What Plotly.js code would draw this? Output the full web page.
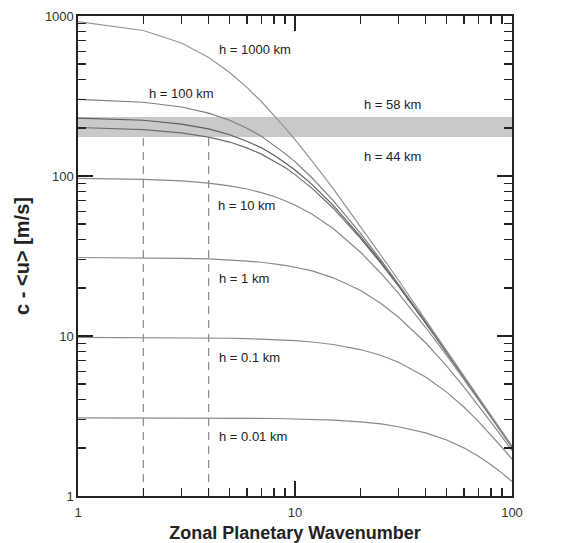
<!DOCTYPE html>
<html>
<head>
<meta charset="utf-8">
<script src="https://cdn.plot.ly/plotly-3.0.1.min.js"></script>
<style>html,body{margin:0;padding:0;background:#fff;}#chart{width:578px;height:543px;}</style>
</head>
<body>
<div id="chart"></div>
<script>
// Zonal planetary wavenumber samples
const wavenumber = [1,2,3,4,5,6,7,8,9,10,12,15,20,25,30,40,50,60,70,80,90,100];

// c - <u> [m/s] for each equivalent depth
const c_h1000 = [923,812,678,550,443,358,292,240,200,169,124,83.3,48.7,31.7,22.3,12.65,8.13,5.66,4.17,3.19,2.52,2.05];
const c_h100  = [301,289,270,247,223,199,177,156,138,123,97.2,70.2,43.9,29.6,21.2,12.3,7.99,5.59,4.13,3.17,2.51,2.04];
const c_h58   = [230,223,211,197,181,165,150,135,121,109,88.4,65.5,42.0,28.8,20.7,12.1,7.92,5.56,4.11,3.16,2.50,2.03];
const c_h44   = [201,195,186,175,163,150,137,124,113,102,83.7,62.9,40.9,28.2,20.5,12.05,7.88,5.54,4.10,3.15,2.50,2.03];
const c_h10   = [96.6,95.2,93.1,90.2,86.8,82.9,78.8,74.5,70.1,65.9,57.7,47.0,33.5,24.5,18.45,11.3,7.56,5.38,4.01,3.10,2.47,2.01];
const c_h1    = [30.95,30.8,30.6,30.3,29.9,29.4,28.9,28.3,27.6,26.9,25.5,23.1,19.3,15.9,13.1,9.07,6.49,4.81,3.69,2.90,2.34,1.92];
const c_h01   = [9.8,9.78,9.76,9.73,9.68,9.63,9.57,9.51,9.43,9.35,9.17,8.85,8.23,7.55,6.85,5.55,4.46,3.60,2.93,2.41,2.01,1.70];
const c_h001  = [3.08,3.08,3.08,3.07,3.07,3.06,3.06,3.05,3.04,3.03,3.01,2.98,2.91,2.82,2.71,2.48,2.24,2.00,1.77,1.57,1.39,1.23];

// shaded band (range between h = 44 km and h = 58 km phase speeds)
const bandX = [1,100];
const bandLow = 175;
const bandHigh = 234;

// dashed reference wavenumbers
const dashedX = [2,4];
const dashedBottom = 1;
const dashedTop = 175;

// labels
const curveLabels = ["h = 1000 km","h = 100 km","h = 58 km","h = 44 km","h = 10 km","h = 1 km","h = 0.1 km","h = 0.01 km"];

// ticks
const xTickVals = [1,10,100];
const xTickText = ["1","10","100"];
const yTickVals = [1,10,100,1000];
const yTickText = ["1","10","100","1000"];
const xMinor = [2,3,4,5,6,7,8,9,20,30,40,50,60,70,80,90];
const yMinor = [2,3,4,5,6,7,8,9,20,30,40,50,60,70,80,90,200,300,400,500,600,700,800,900];

const W = 578, H = 543;
const M = {l:78, r:66, t:16, b:47};

function line(y, color, width){
  return {x: wavenumber, y: y, type:'scatter', mode:'lines',
    line:{color:color, width:width}, hoverinfo:'skip', showlegend:false};
}

const traces = [
  {x: bandX, y: [bandLow, bandLow], type:'scatter', mode:'lines', line:{width:0, color:'rgba(0,0,0,0)'}, showlegend:false, hoverinfo:'skip'},
  {x: bandX, y: [bandHigh, bandHigh], type:'scatter', mode:'lines', line:{width:0, color:'rgba(0,0,0,0)'}, fill:'tonexty', fillcolor:'#c9c9c9', showlegend:false, hoverinfo:'skip'},
];
dashedX.forEach(function(dx){
  traces.push({x:[dx,dx], y:[dashedBottom, dashedTop], type:'scatter', mode:'lines',
    line:{color:'#8a8a8a', width:1.2, dash:'8px,6px'}, showlegend:false, hoverinfo:'skip'});
});
traces.push(line(c_h001,'#8a8a8a',1.2));
traces.push(line(c_h01,'#8a8a8a',1.2));
traces.push(line(c_h1,'#8a8a8a',1.2));
traces.push(line(c_h10,'#8a8a8a',1.2));
traces.push(line(c_h44,'#6e6e6e',1.2));
traces.push(line(c_h58,'#5e5e5e',1.2));
traces.push(line(c_h100,'#7e7e7e',1.2));
traces.push(line(c_h1000,'#959595',1.2));

// label pixel positions (left edge, vertical centre)
const labelPos = [[217,50],[147,93],[362,104],[362,156],[216,206],[217,278],[217,357],[217,436]];
const pw = W - M.l - M.r, ph = H - M.t - M.b;
const annotations = curveLabels.map(function(t,i){
  return {text:t, xref:'paper', yref:'paper',
    x:(labelPos[i][0]-M.l)/pw, y:1-(labelPos[i][1]-M.t)/ph,
    xanchor:'left', yanchor:'middle', showarrow:false,
    font:{family:'Liberation Sans, Arial, sans-serif', size:13, color:'#222'}};
});

const axisCommon = {
  type:'log', showgrid:false, zeroline:false,
  showline:true, linecolor:'#222', linewidth:1.6, mirror:'allticks',
  ticks:'inside', ticklen:15, tickwidth:1.4, tickcolor:'#222',
  tickmode:'array',
  tickfont:{family:'Liberation Sans, Arial, sans-serif', size:13, color:'#333'}
};

const layout = {
  width:W, height:H, margin:M,
  paper_bgcolor:'#fff', plot_bgcolor:'#fff',
  showlegend:false,
  xaxis: Object.assign({}, axisCommon, {
    range:[0,2], tickvals:xTickVals, ticktext:xTickText, ticklabelstandoff:4,
    minor:{tickmode:'array', tickvals:xMinor, ticks:'inside', ticklen:8, tickwidth:1.4, tickcolor:'#222', showgrid:false},
    title:{text:'Zonal Planetary Wavenumber', standoff:7,
      font:{family:'Liberation Sans, Arial, sans-serif', size:18, color:'#222', weight:'bold'}}
  }),
  yaxis: Object.assign({}, axisCommon, {
    range:[0,3], tickvals:yTickVals, ticktext:yTickText,
    minor:{tickmode:'array', tickvals:yMinor, ticks:'inside', ticklen:8, tickwidth:1.4, tickcolor:'#222', showgrid:false},
    title:{text:'c - &lt;u&gt; [m/s]', standoff:10,
      font:{family:'Liberation Sans, Arial, sans-serif', size:20, color:'#222', weight:'bold'}}
  }),
  annotations: annotations
};

Plotly.newPlot('chart', traces, layout, {staticPlot:true, displayModeBar:false});
</script>
</body>
</html>
